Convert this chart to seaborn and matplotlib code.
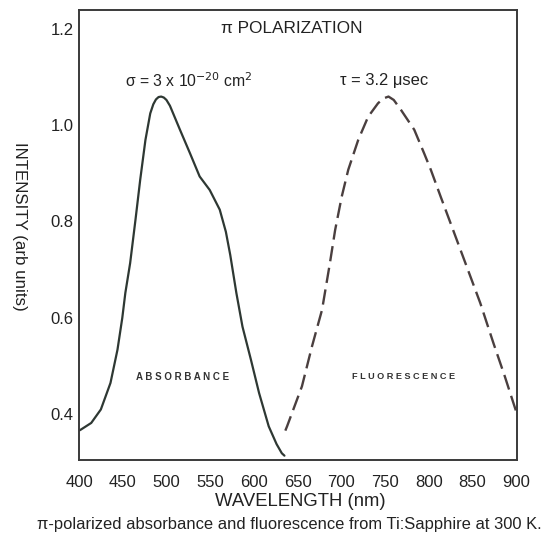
import matplotlib
matplotlib.use("Agg")
import matplotlib.pyplot as plt
import seaborn as sns
import numpy as np
import pandas as pd
from matplotlib.ticker import MultipleLocator

# Absorbance curve (wavelength nm, intensity arb. units)
abs_wl = [400, 402, 414, 425, 436, 444, 449.5, 453, 458.5, 464.6, 470, 476, 481.5, 485, 488,
          491, 494, 497, 500, 504, 515.5, 527, 538, 549.5, 561, 568, 573, 580, 587, 596.7,
          606, 617, 626, 632, 635]
abs_val = [0.365, 0.367, 0.381, 0.409, 0.464, 0.533, 0.599, 0.651, 0.713, 0.803, 0.886, 0.969,
           1.024, 1.043, 1.053, 1.058, 1.059, 1.057, 1.052, 1.040, 0.990, 0.941, 0.893, 0.865,
           0.824, 0.778, 0.730, 0.651, 0.581, 0.512, 0.443, 0.374, 0.337, 0.318, 0.313]

# Fluorescence curve
fl_wl = [636, 638, 655, 666.5, 678, 687, 693, 700.5, 708, 719.4, 730.7, 742, 748, 754, 760,
         768.4, 783.5, 794.8, 802.4, 813.7, 825, 842, 859, 874, 887, 900]
fl_val = [0.365, 0.374, 0.457, 0.540, 0.616, 0.713, 0.782, 0.851, 0.907, 0.969, 1.017, 1.045,
          1.055, 1.059, 1.052, 1.031, 0.990, 0.941, 0.907, 0.851, 0.796, 0.713, 0.630, 0.547,
          0.478, 0.405]

x_ticks = [400, 450, 500, 550, 600, 650, 700, 750, 800, 850, 900]
y_ticks = [0.4, 0.6, 0.8, 1.0, 1.2]

sns.set_style("white")
plt.rcParams['font.family'] = ['Liberation Sans', 'DejaVu Sans']

fig = plt.figure(figsize=(5.43, 5.37), dpi=100)
L, R, T, B = 79, 517, 10.4, 460
ax = fig.add_axes([L/543, 1-B/537, (R-L)/543, (B-T)/537])

df_abs = pd.DataFrame({"wl": abs_wl, "val": abs_val})
df_fl = pd.DataFrame({"wl": fl_wl, "val": fl_val})

sns.lineplot(data=df_abs, x="wl", y="val", ax=ax, color="#2e3833", lw=1.6, sort=False)
sns.lineplot(data=df_fl, x="wl", y="val", ax=ax, color="#4a3f3f", lw=1.7, sort=False,
             linestyle=(0, (6.5, 2.8)))

ax.set_xlim(400, 901)
ax.set_ylim(0.304, 1.238)
ax.set_xticks(x_ticks)
ax.set_xticklabels([str(t) for t in x_ticks])
ax.set_yticks(y_ticks)
ax.set_yticklabels([f"{t:.1f}" for t in y_ticks])
ax.yaxis.set_minor_locator(MultipleLocator(0.1))

for s in ax.spines.values():
    s.set_color("#3a3a3a")
    s.set_linewidth(1.4)

ax.tick_params(axis="both", which="major", direction="in", length=5, width=1.2,
               colors="#3a3a3a", labelsize=12, labelcolor="#222222")
ax.tick_params(axis="x", pad=10.5)
ax.tick_params(axis="y", which="major", length=0, pad=4)
ax.tick_params(axis="y", which="minor", direction="in", length=4, width=1.0, colors="#3a3a3a")

ax.set_xlabel("WAVELENGTH (nm)", fontsize=13.3, color="#222222")
ax.xaxis.label.set_va("center")
ax.xaxis.set_label_coords(0.505, (B-501)/(B-T))
ax.set_ylabel("INTENSITY (arb units)", fontsize=12.2, color="#222222", rotation=270,
              va="center")
ax.yaxis.set_label_coords((19-L)/(R-L), 0.52)

ax.text(643.5, 1.2, "\u03c0 POLARIZATION", ha="center", va="center", fontsize=12.4, color="#222222")

ax.text(526, 1.093, "\u03c3 = 3 x 10$^{-20}$ cm$^2$", ha="center", va="center",
        fontsize=11.3, color="#222222")
ax.text(748.5, 1.093, "\u03c4 = 3.2 \u03bcsec", ha="center", va="center",
        fontsize=11.9, color="#222222")

ax.text(518, 0.477, "A B S O R B A N C E", ha="center", va="center", fontsize=7.0,
        color="#333333", fontweight="bold")
ax.text(771, 0.477, "F L U O R E S C E N C E", ha="center", va="center", fontsize=6.6,
        color="#333333", fontweight="bold")

fig.text(289/543, 1-525/537, "\u03c0-polarized absorbance and fluorescence from Ti:Sapphire at 300 K.",
         ha="center", va="center", fontsize=11.9, color="#222222")

fig.savefig("out.png", dpi=100, facecolor="white")
